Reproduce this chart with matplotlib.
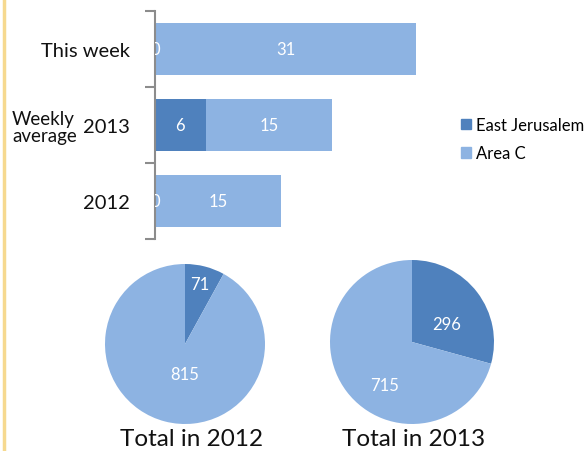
import matplotlib
matplotlib.use("Agg")
import matplotlib.pyplot as plt
import matplotlib.patches as mpatches
from matplotlib.lines import Line2D

plt.rcParams['font.family'] = ['Lato', 'DejaVu Sans']

# data
categories = ["This week", "2013", "2012"]
east_jerusalem = [0, 6, 0]
area_c = [31, 15, 15]
pie_years = ["2012", "2013"]
pie_ej = [71, 296]
pie_c = [815, 715]

DARK = '#4F81BD'
LIGHT = '#8DB3E2'
W, H = 587, 452


def px(x0, y0, x1, y1):
    """pixel box (top-left origin) -> figure fraction rect"""
    return [x0 / W, 1 - y1 / H, (x1 - x0) / W, (y1 - y0) / H]


fig = plt.figure(figsize=(5.87, 4.52), dpi=100)

# yellow margin line
fig.add_artist(Line2D([4 / W, 4 / W], [0, 1], color='#F6D98F', lw=2.5))

# ---- bar panel ----
ax = fig.add_axes(px(155, 12, 492, 240))
ypos = list(range(len(categories)))
ax.barh(ypos, east_jerusalem, height=0.69, color=DARK, label='East Jerusalem')
ax.barh(ypos, area_c, left=east_jerusalem, height=0.69, color=LIGHT, label='Area C')
for i in ypos:
    ax.text(east_jerusalem[i] / 2, i, str(east_jerusalem[i]), color='white',
            ha='center', va='center', fontsize=12, clip_on=True)
    ax.text(east_jerusalem[i] + area_c[i] / 2, i, str(area_c[i]), color='white',
            ha='center', va='center', fontsize=12)
ax.set_xlim(0, 40)
ax.set_ylim(2.5, -0.5)
for s in ['top', 'right', 'bottom']:
    ax.spines[s].set_visible(False)
ax.spines['left'].set_color('#8C8C8C')
ax.spines['left'].set_linewidth(1.5)
ax.set_xticks([])
ax.set_yticks([-0.5, 0.5, 1.5, 2.5])
ax.set_yticklabels([])
ax.tick_params(axis='y', which='major', length=7, width=1.5, color='#8C8C8C')
ax.set_yticks(ypos, minor=True)
ax.set_yticklabels(categories, minor=True, fontsize=14.5, color='#111111')
ax.tick_params(axis='y', which='minor', length=0, pad=18)
fig.text(12 / W, 1 - 128 / H, "Weekly\naverage", fontsize=13.5, ha='left',
         va='center', color='#111111', linespacing=1.05)

handles = [mpatches.Patch(color=DARK, label='East Jerusalem'),
           mpatches.Patch(color=LIGHT, label='Area C')]
fig.legend(handles=handles, loc='center left', bbox_to_anchor=(446 / W, 1 - 140 / H),
           frameon=False, fontsize=12, handlelength=0.6, handleheight=0.6,
           handletextpad=0.3, labelspacing=0.75)

# ---- pies ----
pie_boxes = [(105, 265, 265, 425), (330, 261, 494, 425)]
title_x = [192, 414]
label_pos = [[(0.19, 0.75), (0.0, -0.38)], [(0.42, 0.22), (-0.33, -0.52)]]
for k, year in enumerate(pie_years):
    pax = fig.add_axes(px(*pie_boxes[k]))
    vals = [pie_ej[k], pie_c[k]]
    pax.pie(vals, colors=[DARK, LIGHT], startangle=90, counterclock=False,
            wedgeprops=dict(linewidth=0))
    for v, (lx, ly) in zip(vals, label_pos[k]):
        pax.text(lx, ly, str(v), color='white', ha='center', va='center', fontsize=12)
    pax.set_xlim(-1, 1)
    pax.set_ylim(-1, 1)
    fig.text(title_x[k] / W, 1 - 440 / H, f"Total in {year}", fontsize=17.5,
             ha='center', va='center', color='#111111')

fig.savefig("out.png", dpi=100)
